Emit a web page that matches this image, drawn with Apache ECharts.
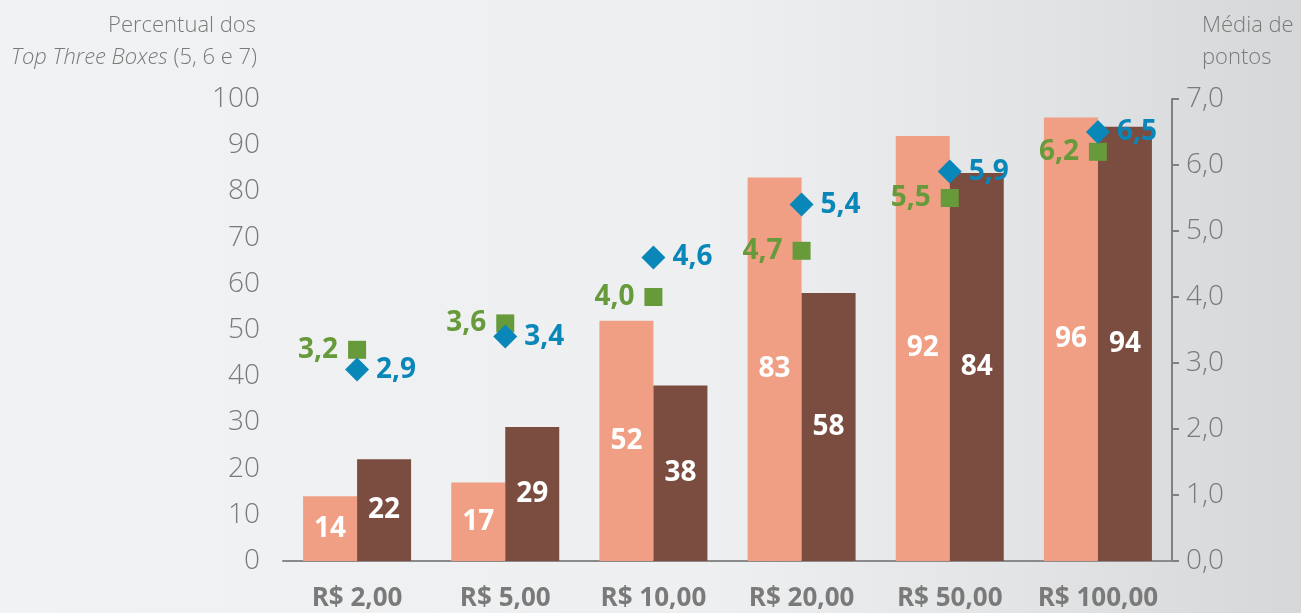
<!DOCTYPE html>
<html>
<head>
<meta charset="utf-8">
<script src="https://cdn.jsdelivr.net/npm/echarts@6/dist/echarts.min.js"></script>
<style>
    html, body { margin: 0; padding: 0; }
    #chart {
        width: 1301px;
        height: 613px;
        background: linear-gradient(90deg, #f1f2f3 0%, #eeeff0 55%, #e2e3e4 80%, #d6d7d8 100%);
    }
</style>
</head>
<body>
<div id="chart"></div>
<script>
// categories and values
var categories = ["R$ 2,00", "R$ 5,00", "R$ 10,00", "R$ 20,00", "R$ 50,00", "R$ 100,00"];
var pctA = [14, 17, 52, 83, 92, 96];
var pctB = [22, 29, 38, 58, 84, 94];
var mediaA = [3.2, 3.6, 4.0, 4.7, 5.5, 6.2];
var mediaB = [2.9, 3.4, 4.6, 5.4, 5.9, 6.5];

var gray = "#7a7a7a";
var fnt = "'Open Sans', 'DejaVu Sans', sans-serif";

function virgula(v) {
    return Number(v).toFixed(1).replace(".", ",");
}

var boldLabel = {
    fontSize: 28,
    fontWeight: 'bold',
    fontFamily: fnt
};

echarts.init(document.querySelector("#chart")).setOption({
    animation: false,
    grid: {
        left: 283,
        right: 129,
        top: 99,
        bottom: 52
    },
    graphic: [{
        type: 'text',
        right: 1301 - 256,
        top: 15,
        style: {
            text: "Percentual dos",
            fill: gray,
            font: "300 22px " + fnt
        }
    }, {
        type: 'text',
        right: 1301 - 257,
        top: 47,
        style: {
            text: "{i|Top Three Boxes} (5, 6 e 7)",
            fill: gray,
            font: "300 22px " + fnt,
            rich: {
                i: { fontStyle: 'italic', fontWeight: 300, fontSize: 22, fill: gray, fontFamily: fnt }
            }
        }
    }, {
        type: 'text',
        left: 1202,
        top: 10,
        style: {
            text: "Média de\npontos",
            fill: gray,
            font: "300 22px " + fnt,
            lineHeight: 32
        }
    }],
    xAxis: {
        type: 'category',
        data: categories,
        axisLine: { lineStyle: { color: "#8a8a8a", width: 2 } },
        axisTick: { show: false },
        axisLabel: {
            interval: 0,
            color: gray,
            fontSize: 26,
            fontWeight: 'bold',
            fontFamily: fnt,
            margin: 25
        }
    },
    yAxis: [{
        type: 'value',
        min: 0,
        max: 100,
        interval: 10,
        splitLine: { show: false },
        axisLine: { show: false },
        axisTick: { show: false },
        axisLabel: {
            color: gray,
            fontSize: 28,
            fontWeight: 300,
            fontFamily: fnt,
            margin: 23
        }
    }, {
        type: 'value',
        min: 0,
        max: 7,
        interval: 1,
        position: 'right',
        splitLine: { show: false },
        axisLine: { show: true, lineStyle: { color: "#808080", width: 2 } },
        axisTick: { show: true, length: 7, lineStyle: { color: "#808080", width: 2 } },
        axisLabel: {
            color: gray,
            fontSize: 28,
            fontWeight: 300,
            fontFamily: fnt,
            margin: 14,
            formatter: virgula
        }
    }],
    series: [{
        type: 'bar',
        data: pctA,
        barWidth: 54,
        barGap: '0%',
        itemStyle: { color: "#f09f84" },
        label: Object.assign({
            show: true,
            position: 'inside',
            color: "#ffffff"
        }, boldLabel)
    }, {
        type: 'bar',
        data: pctB,
        barWidth: 54,
        barGap: '0%',
        itemStyle: { color: "#7a4d40" },
        label: Object.assign({
            show: true,
            position: 'inside',
            color: "#ffffff"
        }, boldLabel)
    }, {
        type: 'scatter',
        yAxisIndex: 1,
        data: mediaA,
        symbol: 'rect',
        symbolSize: 18,
        z: 5,
        itemStyle: { color: "#679a3b", opacity: 1 },
        label: Object.assign({
            show: true,
            position: 'left',
            distance: 10,
            color: "#679a3b",
            formatter: function(p) { return virgula(p.value); }
        }, boldLabel)
    }, {
        type: 'scatter',
        yAxisIndex: 1,
        data: mediaB,
        symbol: 'diamond',
        symbolSize: [24, 24],
        z: 6,
        itemStyle: { color: "#0987b9", opacity: 1 },
        label: Object.assign({
            show: true,
            position: 'right',
            distance: 7,
            color: "#0987b9",
            formatter: function(p) { return virgula(p.value); }
        }, boldLabel)
    }]
});
</script>
</body>
</html>
